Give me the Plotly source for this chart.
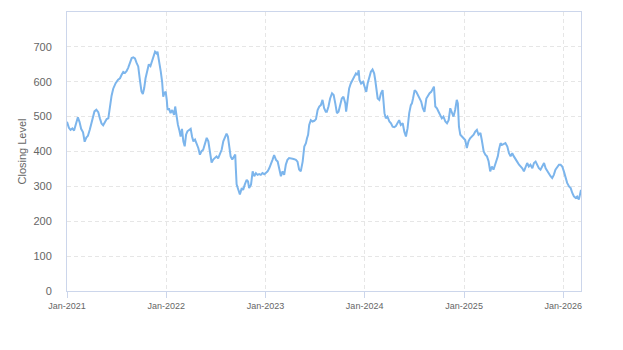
import plotly.graph_objects as go

# Weekly-ish closing levels, split by calendar year
dates_2021 = ["2021-01-01", "2021-01-08", "2021-01-14", "2021-01-21", "2021-01-27", "2021-02-02",
              "2021-02-10", "2021-02-16", "2021-02-22", "2021-03-01", "2021-03-07", "2021-03-13",
              "2021-03-19", "2021-03-26", "2021-04-04", "2021-04-12", "2021-04-19", "2021-04-26",
              "2021-05-02", "2021-05-08", "2021-05-14", "2021-05-21", "2021-05-27", "2021-06-02",
              "2021-06-08", "2021-06-14", "2021-06-20", "2021-06-29", "2021-07-08", "2021-07-15",
              "2021-07-21", "2021-07-27", "2021-08-02", "2021-08-08", "2021-08-14", "2021-08-20",
              "2021-08-27", "2021-09-02", "2021-09-08", "2021-09-14", "2021-09-20", "2021-09-26",
              "2021-10-02", "2021-10-07", "2021-10-12", "2021-10-17", "2021-10-23", "2021-10-29",
              "2021-11-04", "2021-11-11", "2021-11-17", "2021-11-21", "2021-11-27", "2021-11-30",
              "2021-12-05", "2021-12-09", "2021-12-12", "2021-12-17", "2021-12-21", "2021-12-25",
              "2021-12-30"]
close_2021 = [485, 468, 462, 466, 460, 475,
              498, 485, 465, 455, 428, 440,
              445, 463, 490, 515, 520, 513,
              495, 480, 475, 487, 493, 495,
              535, 560, 580, 596, 606, 610,
              620, 628, 625, 630, 640, 656,
              668, 670, 667, 654, 644, 606,
              572, 565, 582, 610, 635, 650,
              645, 663, 677, 686, 681, 686,
              662, 648, 629, 600, 557, 567,
              572]

dates_2022 = ["2022-01-03", "2022-01-06", "2022-01-11", "2022-01-17", "2022-01-23", "2022-01-30",
              "2022-02-03", "2022-02-08", "2022-02-13", "2022-02-18", "2022-02-23", "2022-02-28",
              "2022-03-05", "2022-03-10", "2022-03-15", "2022-03-20", "2022-03-26", "2022-04-01",
              "2022-04-06", "2022-04-11", "2022-04-17", "2022-04-23", "2022-04-29", "2022-05-05",
              "2022-05-11", "2022-05-17", "2022-05-23", "2022-05-30", "2022-06-05", "2022-06-11",
              "2022-06-17", "2022-06-23", "2022-06-29", "2022-07-05", "2022-07-11", "2022-07-17",
              "2022-07-24", "2022-07-30", "2022-08-05", "2022-08-11", "2022-08-16", "2022-08-21",
              "2022-08-26", "2022-09-01", "2022-09-07", "2022-09-12", "2022-09-14", "2022-09-17",
              "2022-09-23", "2022-09-29", "2022-10-06", "2022-10-11", "2022-10-17", "2022-10-24",
              "2022-10-29", "2022-11-02", "2022-11-09", "2022-11-15", "2022-11-21", "2022-11-27",
              "2022-12-03", "2022-12-09", "2022-12-15", "2022-12-21", "2022-12-28"]
close_2022 = [548, 519, 524, 510, 519, 505,
              529, 500, 477, 462, 443, 465,
              429, 415, 448, 458, 462, 465,
              443, 429, 434, 424, 410, 391,
              401, 405, 424, 439, 429, 401,
              368, 377, 382, 386, 380, 391,
              405, 429, 439, 451, 443, 420,
              386, 377, 386, 391, 353, 306,
              291, 277, 295, 290, 305, 319,
              314, 295, 305, 343, 329, 338,
              333, 335, 333, 338, 335]

dates_2023 = ["2023-01-03", "2023-01-09", "2023-01-15", "2023-01-21", "2023-01-27", "2023-02-02",
              "2023-02-09", "2023-02-15", "2023-02-21", "2023-02-27", "2023-03-05", "2023-03-11",
              "2023-03-17", "2023-03-23", "2023-03-29", "2023-04-05", "2023-04-11", "2023-04-17",
              "2023-04-23", "2023-04-29", "2023-05-05", "2023-05-11", "2023-05-18", "2023-05-24",
              "2023-05-30", "2023-06-03", "2023-06-07", "2023-06-11", "2023-06-17", "2023-06-23",
              "2023-06-30", "2023-07-06", "2023-07-12", "2023-07-18", "2023-07-24", "2023-07-30",
              "2023-08-05", "2023-08-11", "2023-08-15", "2023-08-21", "2023-08-27", "2023-09-03",
              "2023-09-09", "2023-09-15", "2023-09-21", "2023-09-27", "2023-10-03", "2023-10-09",
              "2023-10-15", "2023-10-22", "2023-10-25", "2023-10-30", "2023-11-05", "2023-11-11",
              "2023-11-18", "2023-11-24", "2023-11-30", "2023-12-06", "2023-12-10", "2023-12-13",
              "2023-12-19", "2023-12-26"]
close_2023 = [338, 343, 352, 362, 376, 390,
              376, 371, 352, 329, 343, 333,
              362, 376, 381, 381, 379, 378,
              376, 371, 348, 343, 371, 414,
              424, 438, 448, 476, 490, 486,
              488, 493, 519, 529, 533, 548,
              524, 514, 514, 529, 552, 567,
              562, 538, 510, 514, 533, 552,
              557, 538, 514, 548, 581, 595,
              605, 614, 624, 619, 633, 605,
              595, 600]

dates_2024 = ["2024-01-01", "2024-01-07", "2024-01-12", "2024-01-18", "2024-01-24", "2024-01-30",
              "2024-02-05", "2024-02-09", "2024-02-13", "2024-02-18", "2024-02-24", "2024-03-01",
              "2024-03-07", "2024-03-11", "2024-03-14", "2024-03-19", "2024-03-25", "2024-04-01",
              "2024-04-07", "2024-04-13", "2024-04-19", "2024-04-25", "2024-05-01", "2024-05-07",
              "2024-05-13", "2024-05-20", "2024-05-26", "2024-06-01", "2024-06-07", "2024-06-13",
              "2024-06-19", "2024-06-23", "2024-06-27", "2024-07-03", "2024-07-09", "2024-07-15",
              "2024-07-21", "2024-07-27", "2024-08-02", "2024-08-08", "2024-08-15", "2024-08-21",
              "2024-08-27", "2024-09-02", "2024-09-08", "2024-09-12", "2024-09-17", "2024-09-23",
              "2024-09-29", "2024-10-05", "2024-10-11", "2024-10-17", "2024-10-24", "2024-10-30",
              "2024-11-05", "2024-11-11", "2024-11-17", "2024-11-23", "2024-11-29", "2024-12-05",
              "2024-12-09", "2024-12-13", "2024-12-18", "2024-12-24", "2024-12-30"]
close_2024 = [586, 571, 595, 614, 629, 635,
              624, 605, 576, 552, 548, 567,
              576, 548, 510, 495, 500, 486,
              481, 471, 470, 473, 481, 490,
              476, 481, 457, 443, 467, 510,
              533, 538, 552, 576, 571, 562,
              552, 543, 524, 514, 552, 562,
              567, 571, 581, 586, 529, 524,
              514, 505, 495, 500, 486, 481,
              490, 524, 510, 500, 519, 548,
              538, 471, 448, 443, 438]

dates_2025 = ["2025-01-05", "2025-01-11", "2025-01-17", "2025-01-23", "2025-01-30", "2025-02-05",
              "2025-02-11", "2025-02-17", "2025-02-23", "2025-03-02", "2025-03-07", "2025-03-14",
              "2025-03-20", "2025-03-26", "2025-04-01", "2025-04-07", "2025-04-13", "2025-04-19",
              "2025-04-25", "2025-05-02", "2025-05-05", "2025-05-09", "2025-05-15", "2025-05-21",
              "2025-05-27", "2025-06-02", "2025-06-09", "2025-06-15", "2025-06-21", "2025-06-27",
              "2025-07-03", "2025-07-09", "2025-07-15", "2025-07-22", "2025-07-28", "2025-08-03",
              "2025-08-09", "2025-08-15", "2025-08-21", "2025-08-27", "2025-09-02", "2025-09-09",
              "2025-09-15", "2025-09-21", "2025-09-27", "2025-10-03", "2025-10-09", "2025-10-15",
              "2025-10-22", "2025-10-28", "2025-11-03", "2025-11-09", "2025-11-15", "2025-11-21",
              "2025-11-27", "2025-12-03", "2025-12-10", "2025-12-16", "2025-12-22", "2025-12-28"]
close_2025 = [433, 410, 429, 438, 443, 448,
              457, 462, 448, 453, 433, 400,
              391, 386, 372, 343, 357, 348,
              362, 376, 386, 405, 424, 419,
              422, 424, 414, 395, 386, 395,
              386, 376, 371, 362, 357, 352,
              343, 357, 367, 357, 362, 352,
              367, 371, 362, 352, 348, 357,
              367, 352, 343, 338, 329, 324,
              333, 348, 357, 362, 362, 357]

dates_2026 = ["2026-01-03", "2026-01-09", "2026-01-15", "2026-01-22", "2026-01-28", "2026-02-03",
              "2026-02-09", "2026-02-15", "2026-02-21", "2026-02-27", "2026-03-03", "2026-03-07"]
close_2026 = [343, 324, 310, 300, 295, 281,
              271, 267, 271, 262, 276, 290]

dates = dates_2021 + dates_2022 + dates_2023 + dates_2024 + dates_2025 + dates_2026
closing = close_2021 + close_2022 + close_2023 + close_2024 + close_2025 + close_2026

y_ticks = [0, 100, 200, 300, 400, 500, 600, 700]

FONT = "Liberation Sans, Arial, Helvetica, sans-serif"
AXIS_LINE = "#ccd6eb"
GRID = "#e6e6e6"
LABEL = "#666666"

fig = go.Figure(
    go.Scatter(
        x=dates,
        y=closing,
        mode="lines",
        line=dict(color="#7cb5ec", width=2),
        name="Closing Level",
        showlegend=False,
    )
)

fig.update_layout(
    width=623,
    height=350,
    margin=dict(l=67, r=42, t=12, b=59),
    paper_bgcolor="white",
    plot_bgcolor="white",
    font=dict(family=FONT, color=LABEL),
)

fig.update_xaxes(
    type="date",
    range=[dates[0], dates[-1]],
    tick0="2021-01-01",
    dtick="M12",
    tickformat="%b-%Y",
    ticks="outside",
    ticklen=6,
    tickcolor=AXIS_LINE,
    tickfont=dict(size=9, color=LABEL, family=FONT),
    showgrid=True,
    gridcolor=GRID,
    griddash="4px,3px",
    showline=True,
    linecolor=AXIS_LINE,
    linewidth=1,
    mirror=True,
    zeroline=False,
)

fig.update_yaxes(
    range=[0, 800],
    tickvals=y_ticks,
    ticks="",
    ticklabelstandoff=12,
    tickfont=dict(size=11, color=LABEL, family=FONT),
    showgrid=True,
    gridcolor=GRID,
    griddash="4px,3px",
    showline=True,
    linecolor=AXIS_LINE,
    linewidth=1,
    mirror=True,
    zeroline=False,
    title=dict(text="Closing Level", font=dict(size=11, color=LABEL, family=FONT), standoff=4),
)

fig.write_html("out.html")
